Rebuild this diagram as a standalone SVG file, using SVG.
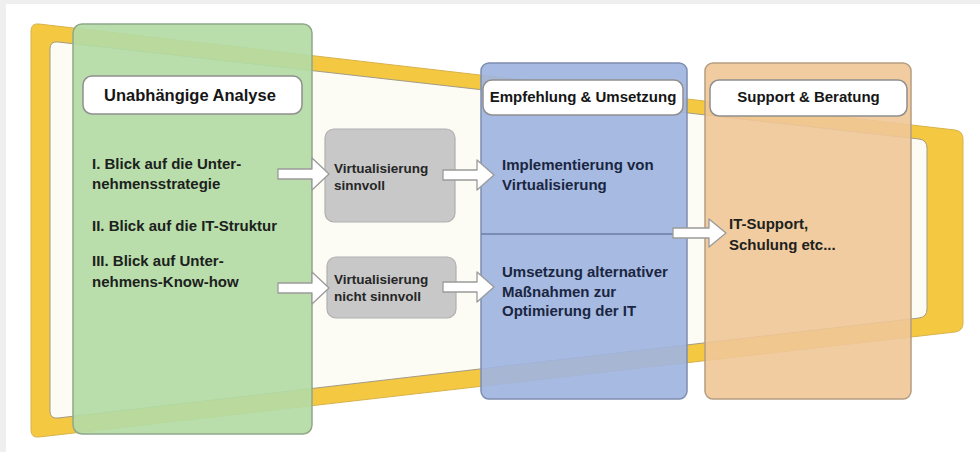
<svg xmlns="http://www.w3.org/2000/svg" width="980" height="452" viewBox="0 0 980 452">
<style>
text{font-family:"Liberation Sans",Arial,sans-serif;font-weight:bold;}
.t{font-size:15px;fill:#1c211d;}
.tb{font-size:15px;fill:#1a2641;}
.tg{font-size:13.5px;fill:#262626;}
.lbl{font-size:15px;fill:#161616;text-anchor:middle;}
.lb{fill:#ffffff;stroke:#8f8f8f;stroke-width:1.5;}
.arr{fill:#ffffff;stroke:#9a9a9a;stroke-width:1.3;stroke-linejoin:round;}
</style>
<rect x="0" y="0" width="980" height="452" fill="#ffffff"/>
<rect x="0" y="0" width="980" height="4" fill="#efefef"/>
<rect x="0" y="0" width="6" height="452" fill="#efefef"/>
<g id="funnel">
<path d="M31,31 Q31,23 39,24 L955,130 Q963,131 963,139 L963,323 Q963,331 955,332 L39,437 Q31,438 31,430 Z" fill="#f5c842" stroke="#d8b24a" stroke-width="1"/>
<path d="M50,49 Q50,41 58,42 L919,139 Q927,140 927,148 L927,309 Q927,317 919,318 L58,418 Q50,419 50,411 Z" fill="#fcfbf4" stroke="#a39b86" stroke-width="1"/>
</g>
<g id="analyse">
<rect x="73" y="24" width="239" height="410" rx="9" fill="#b3dba4" fill-opacity="0.92" stroke="#8fa889" stroke-width="1.5"/>
<rect class="lb" x="83" y="76" width="219" height="38" rx="9"/>
<text class="lbl" x="190" y="101" style="font-size:16.5px">Unabhängige Analyse</text>
<text class="t" x="92" y="169">I. Blick auf die Unter-</text>
<text class="t" x="92" y="189">nehmensstrategie</text>
<text class="t" x="92" y="231">II. Blick auf die IT-Struktur</text>
<text class="t" x="92" y="266">III. Blick auf Unter-</text>
<text class="t" x="92" y="287">nehmens-Know-how</text>
</g>
<g id="sinnvoll">
<rect x="325" y="129" width="130" height="93" rx="9" fill="#c8c8c8" stroke="#b0b0b0" stroke-width="1.2"/>
<text class="tg" x="334" y="173">Virtualisierung</text>
<text class="tg" x="334" y="190">sinnvoll</text>
</g>
<g id="nicht-sinnvoll">
<rect x="327" y="257" width="129" height="61" rx="9" fill="#c8c8c8" stroke="#b0b0b0" stroke-width="1.2"/>
<text class="tg" x="334" y="284">Virtualisierung</text>
<text class="tg" x="334" y="301">nicht sinnvoll</text>
</g>
<g id="umsetzung">
<rect x="481" y="63" width="206" height="336" rx="8" fill="#9fb4e0" fill-opacity="0.92" stroke="#7d8db0" stroke-width="1.5"/>
<line x1="481" y1="234" x2="687" y2="234" stroke="#6b7ca3" stroke-width="1.5"/>
<rect class="lb" x="483" y="80" width="200" height="35" rx="9"/>
<text class="lbl" x="583" y="102">Empfehlung &amp; Umsetzung</text>
<text class="tb" x="502" y="170">Implementierung von</text>
<text class="tb" x="502" y="190">Virtualisierung</text>
<text class="tb" x="502" y="277">Umsetzung alternativer</text>
<text class="tb" x="502" y="297">Maßnahmen zur</text>
<text class="tb" x="502" y="316">Optimierung der IT</text>
</g>
<g id="support">
<rect x="705" y="63" width="206" height="336" rx="8" fill="#efc797" fill-opacity="0.9" stroke="#b59d80" stroke-width="1.5"/>
<rect class="lb" x="710" y="80" width="197" height="36" rx="9"/>
<text class="lbl" x="808.5" y="102">Support &amp; Beratung</text>
<text class="t" x="729" y="229">IT-Support,</text>
<text class="t" x="729" y="250">Schulung etc...</text>
</g>
<g id="connectors">
<path class="arr" d="M278,169 L312,169 L312,158 L329,174 L312,190 L312,179 L278,179 Z"/>
<path class="arr" d="M443,170 L477,170 L477,160 L494,175 L477,190 L477,180 L443,180 Z"/>
<path class="arr" d="M278,283 L312,283 L312,272 L329,288 L312,304 L312,293 L278,293 Z"/>
<path class="arr" d="M443,282 L477,282 L477,272 L494,287 L477,302 L477,292 L443,292 Z"/>
<path class="arr" d="M673,228 L709,228 L709,219 L726,233 L709,247 L709,238 L673,238 Z"/>
</g>
</svg>
